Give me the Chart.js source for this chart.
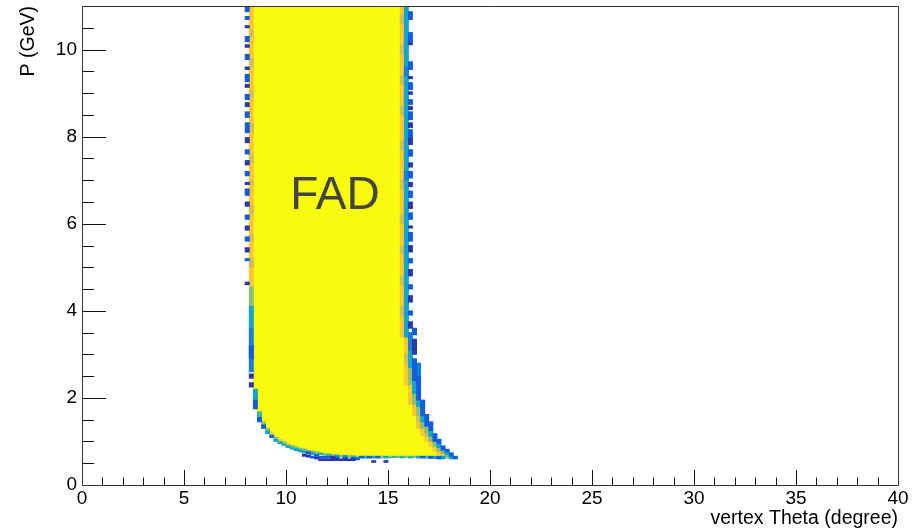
<!DOCTYPE html>
<html>
<head>
<meta charset="utf-8">
<title>P vs vertex Theta — FAD</title>
<script src="https://cdn.jsdelivr.net/npm/chart.js@4.4.1/dist/chart.umd.min.js"></script>
<style>
  html, body { margin: 0; padding: 0; background: #ffffff; }
  #wrap { width: 914px; height: 530px; }
</style>
</head>
<body>
<div id="wrap"><canvas id="c" width="914" height="530"></canvas></div>
<script>
// ---- Histogram content: theta bins are 0.2 deg wide, each entry is one column run [theta centre, P low, P high] ----

// Saturated (yellow) core of the FAD acceptance, one run per theta column
const yellowTheta = [8.5, 8.7, 8.9, 9.1, 9.3, 9.5, 9.7, 9.9, 10.1, 10.3, 10.5, 10.7, 10.9, 11.1, 11.3, 11.5, 11.7, 11.9,
  12.1, 12.3, 12.5, 12.7, 12.9, 13.1, 13.3, 13.5, 13.7, 13.9, 14.1, 14.3, 14.5, 14.7, 14.9, 15.1, 15.3, 15.5,
  15.7, 15.9, 16.1, 16.3, 16.5, 16.7, 16.9, 17.1, 17.3, 17.5];
const yellowLow = [2.2, 1.68, 1.45, 1.3, 1.19, 1.1, 1.04, 0.99, 0.95, 0.91, 0.88, 0.85, 0.83, 0.8, 0.78, 0.76, 0.74, 0.72,
  0.71, 0.7, 0.69, 0.68, 0.68, 0.67, 0.67, 0.66, 0.66, 0.66, 0.66, 0.66, 0.66, 0.66, 0.66, 0.66, 0.66, 0.66,
  0.66, 0.66, 0.66, 0.66, 0.66, 0.66, 0.66, 0.66, 0.66, 0.66];
const yellowHigh = [11, 11, 11, 11, 11, 11, 11, 11, 11, 11, 11, 11, 11, 11, 11, 11, 11, 11,
  11, 11, 11, 11, 11, 11, 11, 11, 11, 11, 11, 11, 11, 11, 11, 11, 11, 11,
  3.4, 2.3, 1.85, 1.6, 1.3, 1.13, 1.0, 0.88, 0.78, 0.7];

// Lower-count edge cells, grouped by colour level
const goldCells = [
  [8.3, 4.55, 11], [15.7, 3.4, 11], [15.9, 2.3, 3.4], [16.1, 1.85, 2.3], [16.3, 1.6, 1.85], [16.5, 1.3, 1.6],
  [16.7, 1.13, 1.3], [16.9, 1.0, 1.13], [17.1, 0.88, 1.0], [17.3, 0.78, 0.88], [17.5, 0.7, 0.78], [17.7, 0.66, 0.72]
];
const tanCells = [
  [8.3, 10.3, 10.45], [8.3, 9.6, 9.8], [8.3, 8.9, 9.05], [8.3, 8.1, 8.3], [8.3, 7.4, 7.6], [8.3, 6.9, 7.0],
  [8.3, 6.2, 6.4], [8.3, 5.6, 5.75], [8.3, 5.0, 5.2],
  [15.7, 10.6, 10.8], [15.7, 9.9, 10.1], [15.7, 9.2, 9.4], [15.7, 8.5, 8.7], [15.7, 7.7, 7.9], [15.7, 6.8, 7.0],
  [15.7, 6.0, 6.2], [15.7, 5.3, 5.5], [15.7, 4.6, 4.8], [15.7, 3.9, 4.1], [15.9, 2.8, 3.0], [16.5, 1.45, 1.6],
  [16.9, 1.13, 1.2], [9.3, 1.14, 1.19], [9.7, 0.99, 1.04], [10.1, 0.9, 0.95]
];
const greenCells = [
  [8.3, 4.1, 4.55], [15.9, 10.0, 10.3], [15.9, 8.8, 9.0], [15.9, 7.5, 7.8], [15.9, 6.3, 6.5], [15.9, 5.0, 5.3],
  [15.9, 3.8, 4.2], [16.1, 2.3, 2.7], [16.3, 1.85, 2.1], [16.5, 1.6, 1.8], [16.7, 1.3, 1.45], [16.9, 1.2, 1.35],
  [17.1, 1.0, 1.12], [17.3, 0.88, 1.0], [17.5, 0.78, 0.86], [17.7, 0.72, 0.8], [17.9, 0.62, 0.7],
  [8.9, 1.38, 1.45], [9.1, 1.24, 1.3], [9.5, 1.05, 1.1], [9.9, 0.94, 0.99], [10.3, 0.86, 0.91], [10.5, 0.83, 0.88],
  [10.7, 0.8, 0.85], [10.9, 0.78, 0.83], [11.1, 0.76, 0.8], [11.3, 0.74, 0.78], [11.5, 0.72, 0.76], [11.9, 0.68, 0.72],
  [12.3, 0.66, 0.7], [12.7, 0.64, 0.68], [13.1, 0.63, 0.67], [13.5, 0.62, 0.66], [14.7, 0.62, 0.66], [15.1, 0.62, 0.66],
  [15.5, 0.63, 0.66], [15.9, 0.63, 0.66], [16.3, 0.63, 0.66]
];
const tealCells = [
  [8.7, 1.55, 1.68], [9.9, 0.9, 0.94], [10.3, 0.82, 0.86], [11.7, 0.7, 0.74], [12.1, 0.67, 0.71], [13.3, 0.63, 0.67],
  [15.3, 0.63, 0.66], [15.7, 0.62, 0.66], [16.1, 0.62, 0.66], [16.9, 0.62, 0.66]
];
const cyanCells = [
  [8.3, 3.6, 4.1], [15.9, 3.4, 11], [16.1, 2.7, 3.1], [16.3, 2.1, 2.4], [16.5, 1.8, 1.95], [16.7, 1.45, 1.6],
  [17.1, 1.12, 1.25], [17.5, 0.86, 0.95], [17.7, 0.6, 0.66], [17.9, 0.7, 0.76], [18.1, 0.6, 0.66],
  [8.5, 1.95, 2.2], [9.1, 1.18, 1.24], [9.5, 1.0, 1.05], [9.7, 0.95, 0.99], [10.1, 0.86, 0.9], [10.5, 0.79, 0.83],
  [10.7, 0.76, 0.8], [10.9, 0.74, 0.78], [11.3, 0.7, 0.74], [12.5, 0.65, 0.69], [12.9, 0.64, 0.68], [13.9, 0.62, 0.66],
  [14.3, 0.62, 0.66], [14.9, 0.62, 0.66], [16.5, 0.62, 0.66], [17.3, 0.61, 0.66]
];
const lightBlueCells = [
  [8.3, 2.6, 3.6], [15.9, 9.4, 9.6], [15.9, 7.0, 7.2], [16.1, 3.1, 3.5], [16.5, 2.5, 2.8]
];
const blueCells = [
  [8.1, 10.87, 10.99], [8.1, 10.69, 10.76], [8.1, 10.18, 10.3], [8.1, 9.77, 9.89], [8.1, 9.26, 9.43], [8.1, 8.85, 8.97],
  [8.1, 8.44, 8.57], [8.1, 8.09, 8.32], [8.1, 7.6, 7.7], [8.1, 7.1, 7.2], [8.1, 6.65, 6.8], [8.1, 6.1, 6.2],
  [8.1, 5.6, 5.7], [8.1, 5.15, 5.2], [8.3, 2.9, 3.2],
  [16.1, 10.69, 10.87], [16.1, 10.18, 10.39], [16.1, 9.54, 9.72], [16.1, 9.08, 9.24], [16.1, 8.74, 8.85],
  [16.1, 8.39, 8.57], [16.1, 8.0, 8.16], [16.1, 7.55, 7.7], [16.1, 7.05, 7.2], [16.1, 6.6, 6.75], [16.1, 6.1, 6.25],
  [16.1, 5.6, 5.8], [16.1, 5.1, 5.2], [16.1, 4.5, 4.6], [16.1, 3.9, 4.0],
  [16.3, 2.4, 2.9], [16.3, 3.45, 3.6], [16.5, 1.95, 2.5], [16.7, 1.6, 1.95], [16.9, 1.35, 1.62], [17.1, 1.25, 1.45],
  [17.3, 1.0, 1.18], [17.5, 0.95, 1.05], [17.7, 0.8, 0.9], [17.9, 0.76, 0.82], [18.1, 0.66, 0.74], [18.3, 0.6, 0.66],
  [8.5, 1.75, 1.95], [8.7, 1.45, 1.55], [8.9, 1.3, 1.38], [9.3, 1.09, 1.14], [11.1, 0.72, 0.76], [11.3, 0.62, 0.66],
  [11.5, 0.66, 0.7], [11.7, 0.62, 0.66], [11.9, 0.62, 0.66], [12.1, 0.62, 0.66], [12.5, 0.6, 0.64], [12.9, 0.6, 0.64],
  [13.3, 0.6, 0.63], [13.5, 0.58, 0.62], [13.7, 0.62, 0.66], [14.1, 0.62, 0.66], [14.5, 0.62, 0.66], [16.7, 0.62, 0.66],
  [17.1, 0.61, 0.66], [17.5, 0.6, 0.66]
];
const navyCells = [
  [8.1, 10.5, 10.55], [8.1, 10.05, 10.11], [8.1, 9.54, 9.6], [8.1, 9.13, 9.2], [8.1, 8.69, 8.78], [8.1, 7.86, 7.98],
  [8.1, 7.35, 7.45], [8.1, 6.9, 6.95], [8.1, 6.4, 6.5], [8.1, 5.85, 5.95], [8.1, 5.35, 5.45], [8.1, 4.6, 4.66],
  [8.3, 2.45, 2.55], [8.3, 2.25, 2.35],
  [16.1, 10.11, 10.16], [16.1, 9.33, 9.38], [16.1, 8.97, 9.03], [16.1, 8.62, 8.69], [16.1, 8.21, 8.32],
  [16.1, 7.82, 7.98], [16.1, 7.3, 7.4], [16.1, 6.85, 6.95], [16.1, 6.35, 6.5], [16.1, 5.9, 5.95], [16.1, 5.35, 5.5],
  [16.1, 4.8, 4.95], [16.1, 4.2, 4.35], [16.1, 3.6, 3.75], [16.3, 3.0, 3.35],
  [10.9, 0.66, 0.71], [11.1, 0.64, 0.69], [11.5, 0.6, 0.64], [11.7, 0.56, 0.6], [11.9, 0.56, 0.6], [12.1, 0.56, 0.6],
  [12.3, 0.56, 0.66], [12.5, 0.56, 0.6], [12.7, 0.56, 0.6], [12.9, 0.56, 0.6], [13.1, 0.56, 0.6], [13.3, 0.56, 0.6],
  [14.3, 0.52, 0.56], [14.9, 0.52, 0.56]
];

// Axis ranges and tick steps
const thetaRange = [0, 40];
const pRange = [0, 11];
const thetaMajorStep = 5, thetaMinorStep = 1;
const pMajorStep = 2, pMinorStep = 0.5;

// In-plot label
const regionLabel = 'FAD';
const regionLabelAt = { theta: 12.4, p: 6.63 };

// ---- Styling (kBird-like palette) ----
const colours = {
  yellow: 'rgb(249,251,14)',
  gold: 'rgb(254,200,50)',
  tan: 'rgb(212,189,92)',
  green: 'rgb(140,192,118)',
  teal: 'rgb(46,183,164)',
  cyan: 'rgb(16,166,206)',
  lightBlue: 'rgb(20,129,214)',
  blue: 'rgb(18,92,222)',
  navy: 'rgb(42,56,168)'
};

const toBars = runs => runs.map(([t, lo, hi]) => ({ x: t, y: [lo, hi] }));
const cellSet = (label, runs, colour) => ({
  label, data: toBars(runs), backgroundColor: colour,
  grouped: false, barPercentage: 1, categoryPercentage: 1,
  borderWidth: 0, inflateAmount: 0.45
});

const yellowRuns = yellowTheta.map((t, i) => [t, yellowLow[i], yellowHigh[i]]);

const datasets = [
  cellSet('navy', navyCells, colours.navy),
  cellSet('blue', blueCells, colours.blue),
  cellSet('lightBlue', lightBlueCells, colours.lightBlue),
  cellSet('cyan', cyanCells, colours.cyan),
  cellSet('teal', tealCells, colours.teal),
  cellSet('green', greenCells, colours.green),
  cellSet('tan', tanCells, colours.tan),
  cellSet('gold', goldCells, colours.gold),
  cellSet('core', yellowRuns, colours.yellow)
];

const FONT = '"Liberation Sans", Arial, Helvetica, sans-serif';
Chart.defaults.font.family = FONT;
Chart.defaults.color = '#000';

// ROOT-style frame with inward major/minor ticks, plus the region label
const frameAndTicks = {
  id: 'frameAndTicks',
  afterDatasetsDraw(chart) {
    const { ctx, chartArea: a, scales: { x, y } } = chart;
    ctx.save();
    // label
    ctx.font = '46px ' + FONT;
    ctx.fillStyle = '#444444';
    ctx.textAlign = 'center';
    ctx.textBaseline = 'middle';
    ctx.fillText(regionLabel, x.getPixelForValue(regionLabelAt.theta), y.getPixelForValue(regionLabelAt.p));

    ctx.strokeStyle = '#111';
    ctx.lineWidth = 1;
    ctx.beginPath();
    const xMajorLen = 15, xMinorLen = 7.5, yMajorLen = 24, yMinorLen = 12;
    const nx = Math.round((thetaRange[1] - thetaRange[0]) / thetaMinorStep);
    for (let k = 1; k < nx; k++) {
      const v = thetaRange[0] + k * thetaMinorStep;
      const px = Math.round(x.getPixelForValue(v)) + 0.5;
      const len = (v % thetaMajorStep === 0) ? xMajorLen : xMinorLen;
      ctx.moveTo(px, a.bottom);
      ctx.lineTo(px, a.bottom - len);
    }
    const ny = Math.round((pRange[1] - pRange[0]) / pMinorStep);
    for (let k = 1; k < ny; k++) {
      const v = pRange[0] + k * pMinorStep;
      const py = Math.round(y.getPixelForValue(v)) + 0.5;
      const len = (Math.abs(v % pMajorStep) < 1e-9) ? yMajorLen : yMinorLen;
      ctx.moveTo(a.left, py);
      ctx.lineTo(a.left + len, py);
    }
    ctx.stroke();

    // frame
    ctx.strokeStyle = '#333';
    ctx.beginPath();
    ctx.moveTo(a.left + 0.5, a.top + 0.5);
    ctx.lineTo(a.right + 0.5, a.top + 0.5);
    ctx.lineTo(a.right + 0.5, a.bottom + 0.5);
    ctx.lineTo(a.left + 0.5, a.bottom + 0.5);
    ctx.closePath();
    ctx.stroke();
    ctx.restore();
  }
};

new Chart(document.getElementById('c'), {
  type: 'bar',
  data: { datasets },
  plugins: [frameAndTicks],
  options: {
    responsive: false,
    animation: false,
    devicePixelRatio: 1,
    layout: { padding: { top: 6, right: 16, left: 0, bottom: 0 } },
    plugins: { legend: { display: false }, tooltip: { enabled: false } },
    scales: {
      x: {
        type: 'linear',
        min: thetaRange[0], max: thetaRange[1],
        offset: false,
        grid: { display: false, drawTicks: false, offset: false },
        border: { display: false },
        ticks: { stepSize: thetaMajorStep, padding: 2, font: { size: 19 }, color: '#000', maxRotation: 0, autoSkip: false },
        title: { display: true, text: 'vertex Theta (degree)', align: 'end', font: { size: 19.5 }, color: '#000', padding: { top: 0, bottom: 0 } },
        afterFit(scale) { scale.height = 45; scale.paddingLeft = 0; scale.paddingRight = 0; }
      },
      y: {
        type: 'linear',
        min: pRange[0], max: pRange[1],
        grid: { display: false, drawTicks: false },
        border: { display: false },
        ticks: { stepSize: pMajorStep, includeBounds: false, padding: 5, font: { size: 19 }, color: '#000' },
        title: { display: true, text: 'P (GeV)', align: 'end', font: { size: 19.5 }, color: '#000', padding: { top: 17, bottom: 0 } },
        afterFit(scale) { scale.width = 82; scale.paddingTop = 0; scale.paddingBottom = 0; }
      }
    }
  }
});
</script>
</body>
</html>
